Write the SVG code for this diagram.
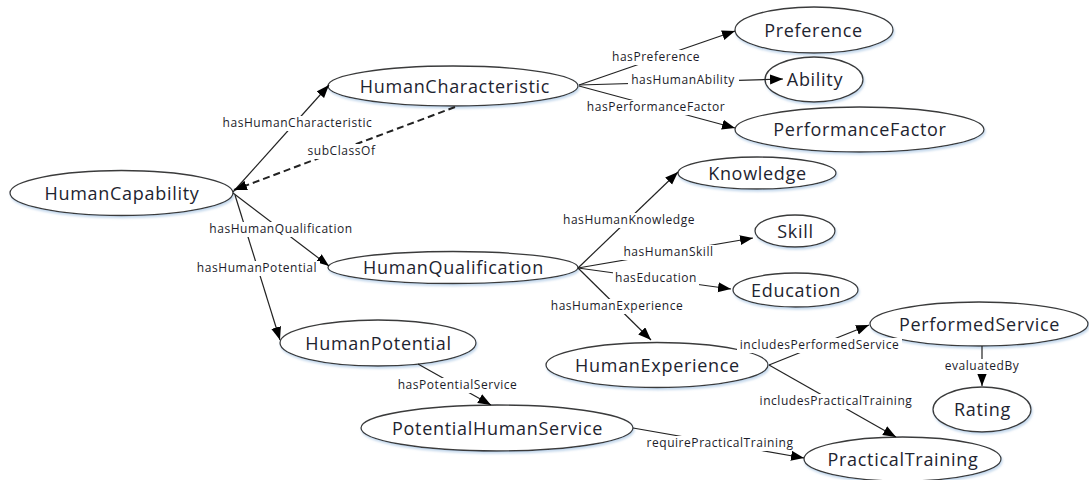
<svg xmlns="http://www.w3.org/2000/svg" width="1089" height="480" viewBox="0 0 1089 480">
<style>
.bg{fill:#ffffff}
.n ellipse{fill:#ffffff;stroke:#3a3a3a;stroke-width:1.3;filter:url(#sh)}
.n text{font-family:"Open Sans","Liberation Sans",sans-serif;font-size:18px;letter-spacing:0.7px;fill:#1e2430;text-anchor:middle}
.e line{stroke:#222;stroke-width:1.2;fill:none;marker-end:url(#ah)}
.e line.d{stroke-width:2;stroke-dasharray:7 4}
.l rect{fill:#ffffff}
.l text{font-family:"Open Sans","Liberation Sans",sans-serif;font-size:12px;letter-spacing:0.55px;fill:#1c1c2a;text-anchor:middle}
</style>
<defs>
<marker id="ah" markerUnits="userSpaceOnUse" markerWidth="14" markerHeight="11" refX="13" refY="5" orient="auto">
<path d="M0,0 L13,5 L0,10 z" fill="#000"/>
</marker>
<filter id="sh" x="-10%" y="-20%" width="120%" height="150%">
<feDropShadow dx="1" dy="2" stdDeviation="1" flood-color="#9fbfe0" flood-opacity="0.6"/>
</filter>
</defs>
<rect class="bg" x="0" y="0" width="1089" height="480"/>

<g id="node-HumanCapability" class="n"><ellipse cx="121.5" cy="193" rx="111.5" ry="22.5"/><text x="122" y="199.5">HumanCapability</text></g>
<g id="node-HumanCharacteristic" class="n"><ellipse cx="453" cy="86" rx="125" ry="20"/><text x="455" y="92.5">HumanCharacteristic</text></g>
<g id="node-Preference" class="n"><ellipse cx="814" cy="30" rx="79" ry="23"/><text x="813.5" y="36.5">Preference</text></g>
<g id="node-Ability" class="n"><ellipse cx="814" cy="79.5" rx="49" ry="22.5"/><text x="815" y="86">Ability</text></g>
<g id="node-PerformanceFactor" class="n"><ellipse cx="859.5" cy="129.5" rx="124.5" ry="22.5"/><text x="860" y="136">PerformanceFactor</text></g>
<g id="node-Knowledge" class="n"><ellipse cx="757" cy="173" rx="79" ry="16"/><text x="757.5" y="179.5">Knowledge</text></g>
<g id="node-Skill" class="n"><ellipse cx="795" cy="231" rx="40" ry="16"/><text x="795.5" y="237.5">Skill</text></g>
<g id="node-Education" class="n"><ellipse cx="795.5" cy="290" rx="62.5" ry="17"/><text x="796" y="296.5">Education</text></g>
<g id="node-HumanQualification" class="n"><ellipse cx="453" cy="267.5" rx="125" ry="16"/><text x="453.5" y="274">HumanQualification</text></g>
<g id="node-HumanPotential" class="n"><ellipse cx="378" cy="343" rx="98" ry="23"/><text x="378.5" y="349.5">HumanPotential</text></g>
<g id="node-HumanExperience" class="n"><ellipse cx="657" cy="365" rx="111" ry="22.5"/><text x="657.5" y="371.5">HumanExperience</text></g>
<g id="node-PotentialHumanService" class="n"><ellipse cx="497" cy="428" rx="136" ry="23"/><text x="497.5" y="434.5">PotentialHumanService</text></g>
<g id="node-PerformedService" class="n"><ellipse cx="979" cy="324" rx="109" ry="22"/><text x="979.5" y="330.5">PerformedService</text></g>
<g id="node-Rating" class="n"><ellipse cx="982" cy="409.5" rx="49" ry="22.5"/><text x="982.5" y="416">Rating</text></g>
<g id="node-PracticalTraining" class="n"><ellipse cx="902.5" cy="459" rx="98.5" ry="22"/><text x="903" y="465.5">PracticalTraining</text></g>

<g id="connectors" class="e">
<line x1="233" y1="192" x2="329" y2="85"/>
<line class="d" x1="455" y1="107" x2="234" y2="190"/>
<line x1="233" y1="193" x2="329" y2="266"/>
<line x1="235" y1="195" x2="280" y2="340"/>
<line x1="579" y1="85" x2="735" y2="31"/>
<line x1="579" y1="85" x2="783" y2="79"/>
<line x1="579" y1="86" x2="735" y2="128"/>
<line x1="578" y1="268" x2="678" y2="172"/>
<line x1="578" y1="268" x2="753" y2="238"/>
<line x1="578" y1="268" x2="731" y2="289"/>
<line x1="578" y1="268" x2="651" y2="340"/>
<line x1="418" y1="364" x2="491" y2="405"/>
<line x1="633" y1="428" x2="804" y2="458"/>
<line x1="769" y1="365" x2="869" y2="325"/>
<line x1="769" y1="365" x2="896" y2="437"/>
<line x1="982" y1="346" x2="982" y2="386"/>
</g>

<g id="connector-labels" class="l">
<rect x="220" y="116" width="155" height="15"/><text x="297.5" y="127">hasHumanCharacteristic</text>
<rect x="306" y="144" width="71" height="15"/><text x="341.5" y="155">subClassOf</text>
<rect x="206" y="222" width="150" height="15"/><text x="281" y="233">hasHumanQualification</text>
<rect x="194" y="261" width="126" height="15"/><text x="257" y="272">hasHumanPotential</text>
<rect x="610" y="50" width="92" height="15"/><text x="656" y="61">hasPreference</text>
<rect x="628" y="73" width="111" height="15"/><text x="683" y="84">hasHumanAbility</text>
<rect x="584" y="100" width="145" height="15"/><text x="656" y="111">hasPerformanceFactor</text>
<rect x="560" y="213" width="138" height="15"/><text x="629" y="224">hasHumanKnowledge</text>
<rect x="621" y="245" width="95" height="15"/><text x="668.5" y="256">hasHumanSkill</text>
<rect x="613" y="271" width="86" height="15"/><text x="656" y="282">hasEducation</text>
<rect x="548" y="299" width="138" height="15"/><text x="617" y="310">hasHumanExperience</text>
<rect x="394" y="378" width="127" height="15"/><text x="457.5" y="389">hasPotentialService</text>
<rect x="644" y="436" width="152" height="15"/><text x="720" y="447">requirePracticalTraining</text>
<rect x="737" y="338" width="165" height="15"/><text x="819.5" y="349">includesPerformedService</text>
<rect x="757" y="394" width="158" height="15"/><text x="836" y="405">includesPracticalTraining</text>
<rect x="941" y="359" width="82" height="15"/><text x="982" y="370">evaluatedBy</text>
</g>
</svg>
